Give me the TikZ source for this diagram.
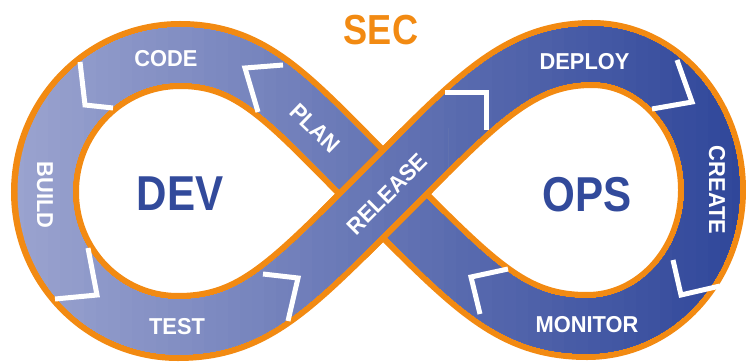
\documentclass[tikz,border=0pt]{standalone}
\usepackage{fontspec}
\setmainfont{Liberation Sans}
\newfontfamily\stagefont{Liberation Sans}[FakeStretch=0.95]
\newfontfamily\hubfont{Liberation Sans}[FakeStretch=0.86]
\definecolor{secorange}{HTML}{F28A12}
\definecolor{hubblue}{HTML}{324A9B}
\definecolor{bandlight}{HTML}{9AA3CF}
\definecolor{banddark}{HTML}{30479A}

% centre line of the infinity loop
\def\loopline{(383,168) .. controls (291,260) and (255,307) .. (180,307)
  .. controls (105.4,307) and (45,245.7) .. (45,170)
  .. controls (45,95.4) and (104.5,35) .. (178,35)
  .. controls (253,35) and (291,76) .. (383,168)
  .. controls (475,260) and (517,308) .. (592,308)
  .. controls (658,308) and (712,247) .. (712,172)
  .. controls (712,97) and (656,36) .. (587,36)
  .. controls (512,36) and (475,76) .. cycle}
% strand that runs on top at the crossing
\def\releaseline{(178,35) .. controls (253,35) and (291,76) .. (383,168)
  .. controls (475,260) and (517,308) .. (592,308)}

% left-to-right colour ramp along the band
\newcommand\bandfill[1]{%
  \foreach \i in {0,...,60}{%
    \pgfmathtruncatemacro\mix{round(100*\i/60)}%
    \begin{scope}
      \clip (12+\i*12,0) rectangle (746,362);
      \draw[band, draw=banddark!\mix!bandlight] #1;
    \end{scope}}}

\tikzset{
  rim/.style={draw=secorange, line width=68pt},
  band/.style={line width=55pt},
  chevron/.style={draw=white, line width=5pt, line join=miter},
  stage/.style={text=white, inner sep=0pt, font=\stagefont\bfseries\fontsize{23}{23}\selectfont},
  hub/.style={inner sep=0pt, font=\hubfont\bfseries\fontsize{49}{49}\selectfont}
}

\begin{document}
\begin{tikzpicture}[x=1pt, y=1pt]
  \useasboundingbox (0,0) rectangle (746,362);

  % the loop itself
  \draw[rim] \loopline;
  \bandfill{\loopline}

  % release strand passes over plan
  \begin{scope}
    \clip (318,103) rectangle (448,233);
    \draw[rim] \releaseline;
    \bandfill{\releaseline}
  \end{scope}

  % arrows between the stages
  \draw[chevron] (283,297) -- (245,294) -- (258,250);
  \draw[chevron] (80,300) -- (85,257) -- (113,254);
  \draw[chevron] (88,114) -- (97,67) -- (55,63);
  \draw[chevron] (263,88) -- (298,84) -- (288,41);
  \draw[chevron] (445,269) -- (486,269) -- (486,232);
  \draw[chevron] (677,302) -- (692,260) -- (652,253);
  \draw[chevron] (673,102) -- (681,67) -- (720,76);
  \draw[chevron] (508,93) -- (471,85) -- (480,48);

  % stage names
  \node[stage, rotate=-44] (plan) at (315,234) {PLAN};
  \node[stage] (code) at (166,303.5) {CODE};
  \node[stage, rotate=-90] (build) at (45,167) {BUILD};
  \node[stage] (test) at (177,35.5) {TEST};
  \node[stage, rotate=45] (release) at (387,168) {RELEASE};
  \node[stage] (deploy) at (584.5,300.5) {DEPLOY};
  \node[stage, rotate=-90] (create) at (717,172) {CREATE};
  \node[stage] (monitor) at (587,37) {MONITOR};

  % the three words
  \node[hub, text=secorange, font=\hubfont\bfseries\fontsize{42}{42}\selectfont] (sec) at (381,332) {SEC};
  \node[hub, text=hubblue] (dev) at (180,168) {DEV};
  \node[hub, text=hubblue] (ops) at (587,167) {OPS};
\end{tikzpicture}
\end{document}
